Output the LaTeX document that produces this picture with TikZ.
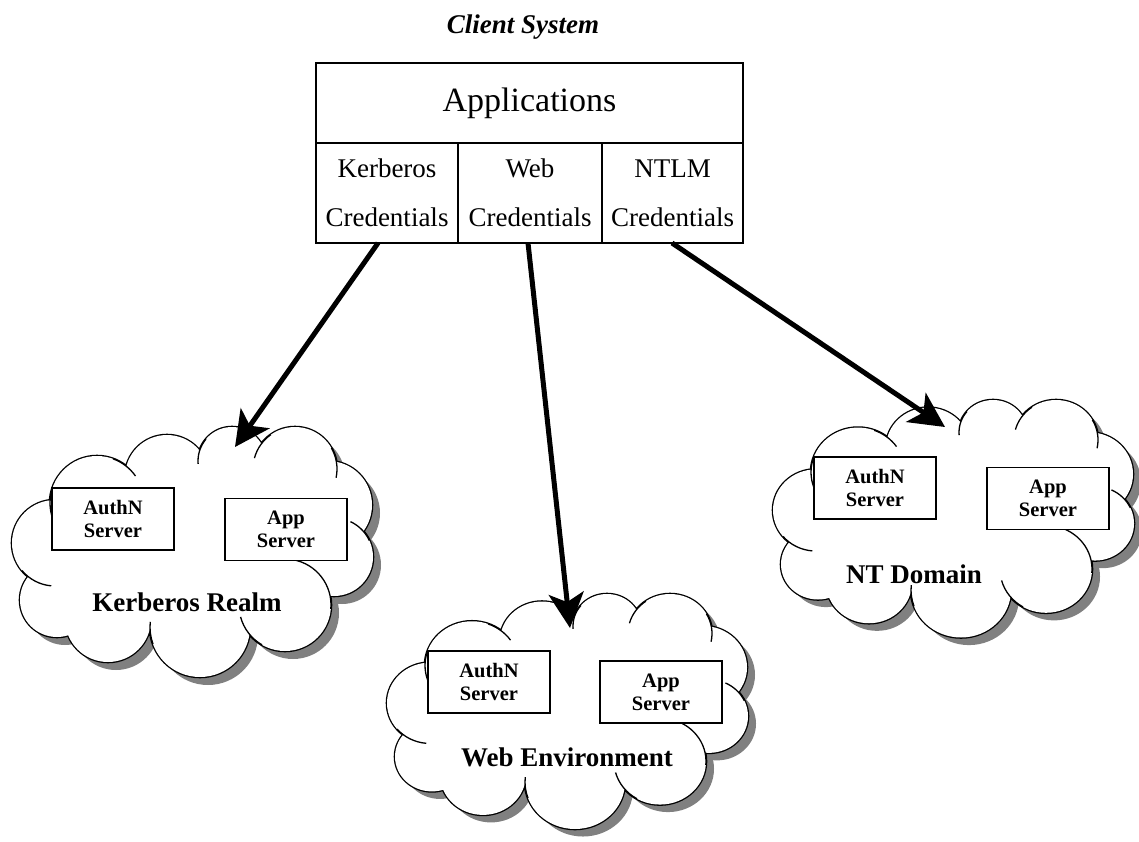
\documentclass[tikz,border=0pt]{standalone}
\usepackage{fontspec}
\setmainfont{Liberation Serif}
\usetikzlibrary{arrows.meta}
\definecolor{cloudshadow}{HTML}{808080}

\newcommand\cloudcircles{(155,50) circle[radius=42] (220,34) circle[radius=34] (283,42) circle[radius=42] (316,78) circle[radius=44] (322,130) circle[radius=39] (273,178) circle[radius=46] (188,200) circle[radius=50] (96,192) circle[radius=43] (45,173) circle[radius=37] (43,116) circle[radius=43] (85,76) circle[radius=47]}
\newcommand\cloudpoly{(155,50) -- (220,34) -- (283,42) -- (316,78) -- (322,130) -- (273,178) -- (188,200) -- (96,192) -- (45,173) -- (43,116) -- (85,76) -- cycle}
\newcommand\hook[5]{\draw[cloudline] (#1,#2) ++(#4:#3) arc[start angle=#4, end angle=#5, radius=#3];}
\newcommand\drawcloud[3]{%
\begin{scope}[shift={(#1,#2)},yscale=#3]
  \fill[cloudshadow,shift={(8,8)}] \cloudcircles;
  \fill[cloudshadow,shift={(8,8)}] \cloudpoly;
  \draw[line width=2.6pt] \cloudcircles;
  \fill[white] \cloudcircles;
  \fill[white] \cloudpoly;
  \hook{85}{76}{47}{-70}{-35}
  \hook{220}{34}{34}{-140}{-185}
  \hook{283}{42}{42}{-125}{-165}
  \hook{283}{42}{42}{-30}{12}
  \hook{322}{130}{39}{-25}{-65}
  \hook{273}{178}{46}{5}{-80}
  \hook{273}{178}{46}{120}{165}
  \hook{188}{200}{50}{160}{186}
  \hook{43}{116}{43}{140}{95}
  \hook{85}{76}{47}{200}{160}
\end{scope}}

\tikzset{
  cloudline/.style={line width=1.3pt},
  cell/.style={draw, line width=1.8pt, inner sep=0pt, outer sep=0pt, align=center,
    font=\fontsize{27}{49}\selectfont},
  server/.style={draw, line width=1.3pt, fill=white, inner sep=0pt, outer sep=0pt,
    minimum width=122pt, minimum height=62pt, align=center,
    font=\bfseries\fontsize{20.5}{23}\selectfont},
  cloudlabel/.style={font=\bfseries\fontsize{27}{30}\selectfont},
  link/.style={line width=5pt, -{Stealth[length=35pt, width=35pt, inset=9pt]}},
}

\begin{document}
\begin{tikzpicture}[x=1pt,y=-1pt]
\useasboundingbox (0,0) rectangle (1139,842);

% clouds
\drawcloud{12}{427}{1}
\drawcloud{387}{594}{0.94}
\drawcloud{773}{400}{0.95}

% client system
\node[font=\bfseries\itshape\fontsize{27}{30}\selectfont] (title) at (523,27) {Client System};
\node[cell, minimum width=427pt, minimum height=80pt, font=\fontsize{34}{40}\selectfont] (apps) at (529.5,103) {Applications};
\node[cell, minimum width=142pt, minimum height=100pt] (kcred) at (387,193) {Kerberos\\Credentials};
\node[cell, minimum width=144pt, minimum height=100pt] (wcred) at (530,193) {Web\\Credentials};
\node[cell, minimum width=141pt, minimum height=100pt] (ncred) at (672.5,193) {NTLM\\Credentials};

% Kerberos realm
\node[server] (kauth) at (113,519) {AuthN\\Server};
\node[server] (kapp) at (286,529.5) {App\\Server};
\node[cloudlabel] (klabel) at (187,602) {Kerberos Realm};

% Web environment
\node[server] (wauth) at (489,682) {AuthN\\Server};
\node[server] (wapp) at (661,692) {App\\Server};
\node[cloudlabel] (wlabel) at (567,757) {Web Environment};

% NT domain
\node[server] (nauth) at (875,488) {AuthN\\Server};
\node[server] (napp) at (1048,498.5) {App\\Server};
\node[cloudlabel] (nlabel) at (914,574) {NT Domain};

% arrows
\coordinate (ks) at ([xshift=-9pt]kcred.south);
\coordinate (ws) at ([xshift=-2pt]wcred.south);
\coordinate (ns) at ([xshift=-0.5pt]ncred.south);
\coordinate (kt) at (235,447);
\coordinate (wt) at (570,628);
\coordinate (nt) at (945,427);
\draw[link] (ks) -- (kt);
\draw[link] (ws) -- (wt);
\draw[link] (ns) -- (nt);
\end{tikzpicture}
\end{document}
